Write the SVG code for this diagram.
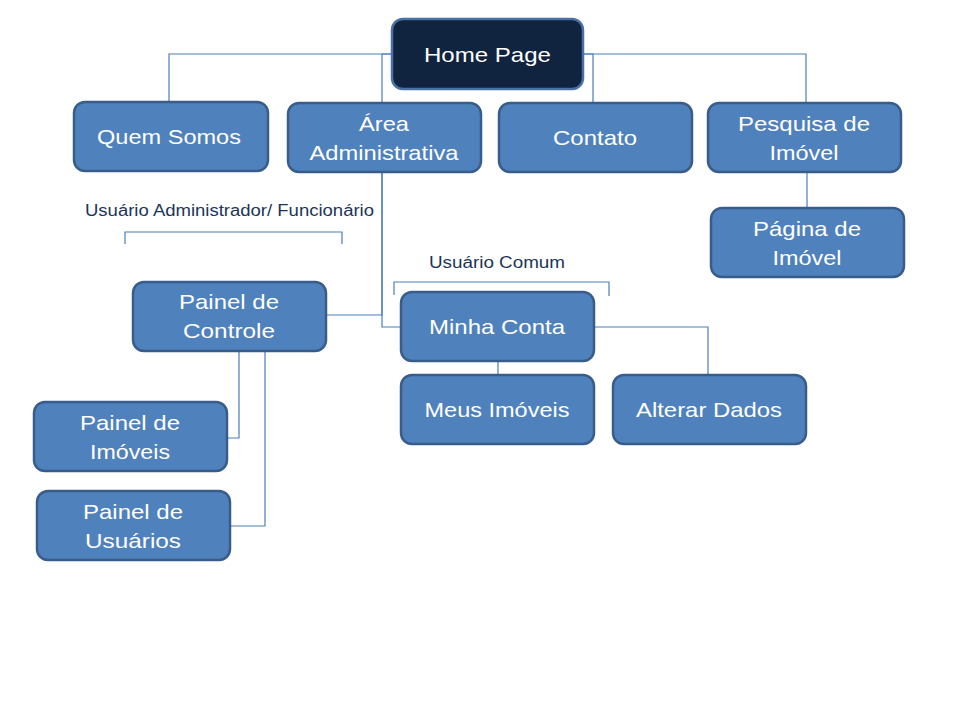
<svg xmlns="http://www.w3.org/2000/svg" width="960" height="720" viewBox="0 0 960 720">
<style>
.n{fill:#4f81bd;stroke:#385d8a;stroke-width:2.5}
.h{fill:#11243f;stroke:#4a70a5;stroke-width:2.5}
.t{font-family:"Liberation Sans",Arial,sans-serif;font-size:21px;fill:#ffffff;text-anchor:middle}
.s{font-family:"Liberation Sans",Arial,sans-serif;font-size:16px;fill:#1b355a;text-anchor:middle}
.c{fill:none;stroke:#4a7ebb;stroke-width:1.2}
</style>
<rect width="960" height="720" fill="#ffffff"/>
<g id="connectors">
<path class="c" d="M392,54 H169 V102"/>
<path class="c" d="M392,54 H382 V103"/>
<path class="c" d="M583,54 H593 V103"/>
<path class="c" d="M583,54 H806 V103"/>
<path class="c" d="M807,172 V208"/>
<path class="c" d="M382,172 V315 H326"/>
<path class="c" d="M382,172 V327 H401"/>
<path class="c" d="M498,361 V375"/>
<path class="c" d="M594,327 H708 V375"/>
<path class="c" d="M239,351 V438 H227"/>
<path class="c" d="M265,351 V526 H230"/>
<path class="c" d="M125,244 V232 H342 V244"/>
<path class="c" d="M394,295 V282 H609 V296"/>
</g>
<g id="labels">
<text class="s" x="229.5" y="216" textLength="289" lengthAdjust="spacingAndGlyphs">Usuário Administrador/ Funcionário</text>
<text class="s" x="497" y="268" textLength="136" lengthAdjust="spacingAndGlyphs">Usuário Comum</text>
</g>
<g id="home">
<rect class="h" x="392" y="19" width="191" height="70" rx="11"/>
<text class="t" x="487.5" y="61.5" textLength="127" lengthAdjust="spacingAndGlyphs">Home Page</text>
</g>
<g id="quem-somos">
<rect class="n" x="74" y="102" width="194" height="69" rx="11"/>
<text class="t" x="169" y="144" textLength="144" lengthAdjust="spacingAndGlyphs">Quem Somos</text>
</g>
<g id="area-administrativa">
<rect class="n" x="288" y="103" width="193" height="69" rx="11"/>
<text class="t" x="384" y="131" textLength="50" lengthAdjust="spacingAndGlyphs">Área</text>
<text class="t" x="384" y="160" textLength="149" lengthAdjust="spacingAndGlyphs">Administrativa</text>
</g>
<g id="contato">
<rect class="n" x="499" y="103" width="193" height="69" rx="11"/>
<text class="t" x="595" y="145" textLength="84" lengthAdjust="spacingAndGlyphs">Contato</text>
</g>
<g id="pesquisa">
<rect class="n" x="708" y="103" width="193" height="69" rx="11"/>
<text class="t" x="804" y="131" textLength="132" lengthAdjust="spacingAndGlyphs">Pesquisa de</text>
<text class="t" x="804" y="160" textLength="69" lengthAdjust="spacingAndGlyphs">Imóvel</text>
</g>
<g id="pagina-imovel">
<rect class="n" x="711" y="208" width="193" height="69" rx="11"/>
<text class="t" x="807" y="236" textLength="108" lengthAdjust="spacingAndGlyphs">Página de</text>
<text class="t" x="807" y="265" textLength="69" lengthAdjust="spacingAndGlyphs">Imóvel</text>
</g>
<g id="painel-controle">
<rect class="n" x="133" y="282" width="193" height="69" rx="11"/>
<text class="t" x="229" y="309" textLength="100" lengthAdjust="spacingAndGlyphs">Painel de</text>
<text class="t" x="229" y="338" textLength="92" lengthAdjust="spacingAndGlyphs">Controle</text>
</g>
<g id="minha-conta">
<rect class="n" x="401" y="292" width="193" height="69" rx="11"/>
<text class="t" x="497" y="334" textLength="136" lengthAdjust="spacingAndGlyphs">Minha Conta</text>
</g>
<g id="meus-imoveis">
<rect class="n" x="401" y="375" width="193" height="69" rx="11"/>
<text class="t" x="497" y="417" textLength="145" lengthAdjust="spacingAndGlyphs">Meus Imóveis</text>
</g>
<g id="alterar-dados">
<rect class="n" x="613" y="375" width="193" height="69" rx="11"/>
<text class="t" x="709" y="417" textLength="146" lengthAdjust="spacingAndGlyphs">Alterar Dados</text>
</g>
<g id="painel-imoveis">
<rect class="n" x="34" y="402" width="193" height="69" rx="11"/>
<text class="t" x="130" y="430" textLength="100" lengthAdjust="spacingAndGlyphs">Painel de</text>
<text class="t" x="130" y="459" textLength="80" lengthAdjust="spacingAndGlyphs">Imóveis</text>
</g>
<g id="painel-usuarios">
<rect class="n" x="37" y="491" width="193" height="69" rx="11"/>
<text class="t" x="133" y="519" textLength="100" lengthAdjust="spacingAndGlyphs">Painel de</text>
<text class="t" x="133" y="548" textLength="96" lengthAdjust="spacingAndGlyphs">Usuários</text>
</g>
</svg>
